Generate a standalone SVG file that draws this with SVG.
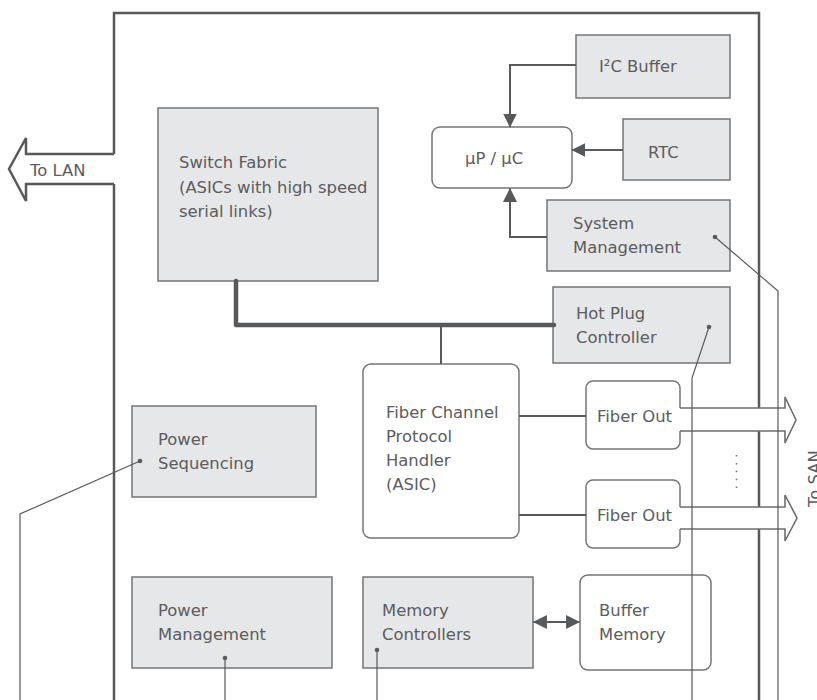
<svg xmlns="http://www.w3.org/2000/svg" width="817" height="700" viewBox="0 0 817 700">
<style>
.box{fill:#e6e7e8;stroke:#747577;stroke-width:1.5}
.rbox{fill:#ffffff;stroke:#747577;stroke-width:1.5}
.t{font-family:"DejaVu Sans",sans-serif;font-size:16.4px;fill:#5b5c5e}
.frame{fill:none;stroke:#58595b;stroke-width:2.5}
.conn{fill:none;stroke:#58595b;stroke-width:2}
.thin{fill:none;stroke:#58595b;stroke-width:1.2}
.big{fill:none;stroke:#6d6e70;stroke-width:1.6;stroke-linejoin:miter}
.dot{fill:#58595b}
</style>
<defs>
<marker id="ah" markerUnits="userSpaceOnUse" markerWidth="14" markerHeight="14" viewBox="0 0 13 13" refX="12.5" refY="6.5" orient="auto-start-reverse">
<path d="M0,0 L13,6.5 L0,13 z" fill="#58595b"/>
</marker>
</defs>

<path id="frame" class="frame" d="M114,700 V13 H759 V700"/>

<g id="switch-fabric">
<rect class="box" x="158" y="108" width="220" height="173"/>
<text class="t" x="179" y="168">Switch Fabric</text>
<text class="t" x="179" y="192.5">(ASICs with high speed</text>
<text class="t" x="179" y="217">serial links)</text>
</g>
<g id="i2c-buffer">
<rect class="box" x="576" y="35" width="154" height="63"/>
<text class="t" x="599" y="72">I²C Buffer</text>
</g>
<g id="rtc">
<rect class="box" x="623" y="119" width="107" height="61"/>
<text class="t" x="648" y="158">RTC</text>
</g>
<g id="mpu">
<rect class="rbox" x="432" y="127" width="140" height="61" rx="8"/>
<text class="t" x="465" y="164">µP / µC</text>
</g>
<g id="system-management">
<rect class="box" x="547" y="200" width="183" height="71"/>
<text class="t" x="573" y="229">System</text>
<text class="t" x="573" y="253">Management</text>
</g>
<g id="hot-plug">
<rect class="box" x="553" y="287" width="177" height="76"/>
<text class="t" x="576" y="319">Hot Plug</text>
<text class="t" x="576" y="343">Controller</text>
</g>
<g id="fcph">
<rect class="rbox" x="363" y="364" width="156" height="174" rx="8"/>
<text class="t" x="386" y="418">Fiber Channel</text>
<text class="t" x="386" y="442">Protocol</text>
<text class="t" x="386" y="466">Handler</text>
<text class="t" x="386" y="490">(ASIC)</text>
</g>
<g id="fiber-out-1">
<rect class="rbox" x="586" y="381" width="94" height="68" rx="7"/>
<text class="t" x="597" y="422">Fiber Out</text>
</g>
<g id="fiber-out-2">
<rect class="rbox" x="586" y="480" width="94" height="68" rx="7"/>
<text class="t" x="597" y="521">Fiber Out</text>
</g>
<g id="power-sequencing">
<rect class="box" x="132" y="406" width="184" height="91"/>
<text class="t" x="158" y="445">Power</text>
<text class="t" x="158" y="469">Sequencing</text>
</g>
<g id="power-management">
<rect class="box" x="132" y="577" width="200" height="91"/>
<text class="t" x="158" y="616">Power</text>
<text class="t" x="158" y="640">Management</text>
</g>
<g id="memory-controllers">
<rect class="box" x="363" y="577" width="170" height="91"/>
<text class="t" x="382" y="616">Memory</text>
<text class="t" x="382" y="640">Controllers</text>
</g>
<g id="buffer-memory">
<rect class="rbox" x="580" y="575" width="131" height="95" rx="8"/>
<text class="t" x="599" y="616">Buffer</text>
<text class="t" x="599" y="640">Memory</text>
</g>

<g id="connectors">
<polygon points="116.5,154 26,154 26,138 9,169 26,201 26,184 116.5,184" fill="#ffffff"/>
<path class="frame" d="M114,154 H26 V138 L9,169 L26,201 V184 H114"/>
<text class="t" x="30" y="176">To LAN</text>
<polygon points="679,408 785,408 785,397 796,420 785,443 785,431 679,431" fill="#ffffff"/>
<path class="big" d="M680,408 H785 V397 L796,420 L785,443 V431 H680"/>
<polygon points="679,507 785,507 785,495 797,518 785,541 785,529 679,529" fill="#ffffff"/>
<path class="big" d="M680,507 H785 V495 L797,518 L785,541 V529 H680"/>
<text class="t" transform="translate(820,507) rotate(-90)" x="0" y="0">To SAN</text>
<line x1="736.5" y1="455" x2="736.5" y2="489" stroke="#6d6e70" stroke-width="1.5" stroke-dasharray="1.5 6.4"/>

<path class="conn" d="M576,65 H510 V127" marker-end="url(#ah)"/>
<path class="conn" d="M623,150 H572" marker-end="url(#ah)"/>
<path class="conn" d="M547,237 H510 V188.5" marker-end="url(#ah)"/>
<path d="M236,281 V325 H554" fill="none" stroke="#58595b" stroke-width="4.5" stroke-linecap="round" stroke-linejoin="round"/>
<path class="conn" d="M441,325 V364"/>
<path class="conn" d="M519,416 H586"/>
<path class="conn" d="M519,515 H586"/>
<path class="conn" d="M533.5,622 H579.5" marker-start="url(#ah)" marker-end="url(#ah)"/>

<path class="thin" d="M140,461 L20,514 V700"/>
<circle class="dot" cx="140" cy="461" r="2.3"/>
<path class="thin" d="M225,658 V700"/>
<circle class="dot" cx="225" cy="658" r="2.3"/>
<path class="thin" d="M377,650 V700"/>
<circle class="dot" cx="377" cy="650" r="2.3"/>
<path class="thin" d="M709,327 L692,378 V700"/>
<circle class="dot" cx="709" cy="327" r="2.3"/>
<path class="thin" d="M715,237 L778,291 V700"/>
<circle class="dot" cx="715" cy="237" r="2.3"/>
</g>
</svg>
